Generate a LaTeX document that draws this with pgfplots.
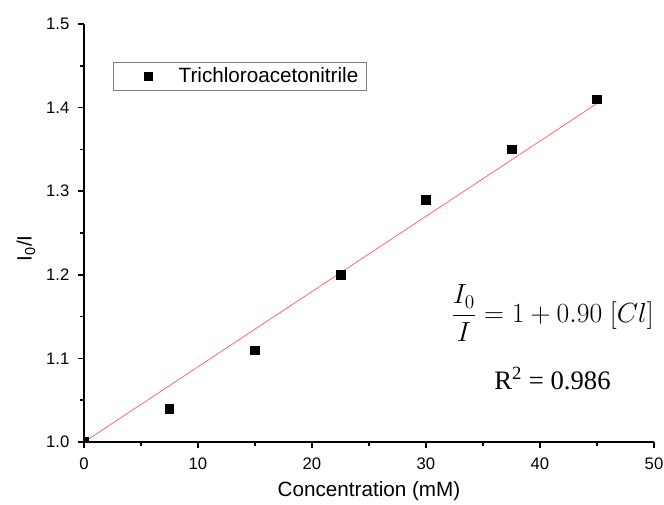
\documentclass[border=0pt]{standalone}
\usepackage{pgfplots}
\pgfplotsset{compat=1.18}
\usepackage{fontspec}
\setmainfont{Liberation Sans}
\newfontfamily\seriffont{Liberation Serif}
\definecolor{fitred}{RGB}{255,105,105}

\begin{document}
\begin{tikzpicture}
\begin{axis}[
    scale only axis,
    width=427.5pt,
    height=313.5pt,
    xmin=0, xmax=50,
    ymin=1.0, ymax=1.5,
    axis x line*=bottom,
    axis y line*=left,
    axis line style={line width=1.1pt},
    every tick/.style={black, line width=1.1pt},
    tick align=outside,
    major tick length=4.5pt,
    minor tick length=3pt,
    minor x tick num=1,
    minor y tick num=1,
    xtick={0,10,20,30,40,50},
    ytick={1.0,1.1,1.2,1.3,1.4,1.5},
    yticklabel style={xshift=-3pt, /pgf/number format/.cd, fixed, fixed zerofill, precision=1},
    xticklabel style={yshift=-4pt},
    /pgf/number format/assume math mode=true,
    ticklabel style={font=\fontsize{12.5}{14}\selectfont},
    xlabel={Concentration (mM)},
    ylabel={I\textsubscript{0}/I},
    every axis x label/.append style={at={(axis description cs:0.5,0)}, anchor=center, yshift=-37pt},
    every axis y label/.append style={at={(axis description cs:-0.1018,0.463)}, anchor=center},
    label style={font=\fontsize{15.5}{18}\selectfont},
    clip marker paths=true,
    legend style={
        at={(0.051,0.909)},
        anchor=north west,
        draw=gray,
        line width=0.5pt,
        font=\fontsize{15.5}{18}\selectfont,
        inner xsep=4pt,
        inner ysep=2pt
    },
    legend cell align=left,
    legend image code/.code={
        \path[draw=none] (-22pt,0pt) -- (21pt,0pt);
        \path[draw=none, fill=black] (-3.4pt,-3.4pt) rectangle (3.4pt,3.4pt);
    }
]

% linear fit
\addplot[fitred, line width=0.6pt, forget plot] coordinates {
(0,1.0)
(45,1.405)
};

% data
\addplot[only marks, mark=square*, mark size=3.2pt, black] coordinates {
(0,1.00)
(7.5,1.04)
(15,1.11)
(22.5,1.20)
(30,1.29)
(37.5,1.35)
(45,1.41)
};
\addlegendentry{Trichloroacetonitrile}

\node at (axis cs:41.1,1.154) {\fontsize{19.5}{22}\selectfont $\displaystyle\frac{I_0}{I} = 1 + 0.90\;[Cl]$};
\node at (axis cs:41.1,1.076) {\fontsize{20}{22}\selectfont\seriffont R\textsuperscript{2} = 0.986};

\end{axis}
\pgfresetboundingbox
\path ([xshift=-63pt,yshift=-46.5pt]current axis.south west) rectangle ([xshift=7.5pt,yshift=18pt]current axis.north east);
\end{tikzpicture}
\end{document}
